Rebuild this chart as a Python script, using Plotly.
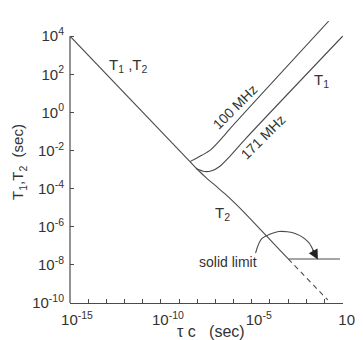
import plotly.graph_objects as go

# ---- data (log10 values) ----
# common T1 = T2 branch (short correlation time)
log_tau_shared = [-15.0, -8.40]
log_T_shared = [4.0, -2.58]

# T1 at 100 MHz
log_tau_100 = [-8.40, -7.75, -7.25, -6.60, -6.24, -0.77]
log_T1_100 = [-2.58, -2.25, -1.95, -1.30, -0.90, 4.79]

# T1 at 171 MHz
log_tau_171 = [-8.04, -7.60, -7.20, -6.75, -6.20, -5.31, 0.0]
log_T1_171 = [-2.96, -3.10, -3.06, -2.82, -2.30, -1.35, 4.0]

# T2 branch (long correlation time)
log_tau_T2 = [-8.40, -8.00, -7.50, -7.00, -6.50, -6.00, -5.50, -2.99]
log_T2 = [-2.58, -2.98, -3.43, -3.84, -4.25, -4.69, -5.16, -7.69]

# solid limit (horizontal) and dashed extrapolation
log_tau_solid = [-2.99, -0.15]
log_T_solid = [-7.69, -7.69]
log_tau_dash = [-2.99, -0.82]
log_T_dash = [-7.69, -9.84]

# curved arrow (annotation)
log_tau_arc = [-4.79, -4.45, -3.51, -2.58, -1.87, -1.50]
log_T_arc = [-7.38, -6.62, -6.25, -6.36, -6.82, -7.50]

x_tick_exp = list(range(-15, 1))
x_label_exp = [-15, -10, -5, 0]
y_tick_exp = [4, 2, 0, -2, -4, -6, -8, -10]

LINE = "#4a4a4a"
TXT = "#333333"
FONT = "Liberation Sans, Arial, sans-serif"


def p(v):
    return [10 ** e for e in v]


fig = go.Figure()


def add_line(xs, ys, dash="solid", shape="spline"):
    fig.add_trace(go.Scatter(
        x=p(xs), y=p(ys), mode="lines",
        line=dict(color=LINE, width=1.1, dash=dash, shape=shape, smoothing=0.8),
        showlegend=False, hoverinfo="skip"))


add_line(log_tau_shared, log_T_shared, shape="linear")
add_line(log_tau_100, log_T1_100)
add_line(log_tau_171, log_T1_171)
add_line(log_tau_T2, log_T2)
add_line(log_tau_solid, log_T_solid, shape="linear")
add_line(log_tau_dash, log_T_dash, dash="5px,4px", shape="linear")
add_line(log_tau_arc, log_T_arc)

# arrow head at the end of the arc
fig.add_annotation(x=-1.36, y=-7.72, xref="x", yref="y", text="",
                   showarrow=True, arrowhead=2, arrowsize=1.8, arrowwidth=1.1,
                   arrowcolor="#222222", ax=-6, ay=-11)

# y axis line (drawn only from 1e-10 to 1e4)
fig.add_shape(type="line", xref="paper", yref="paper", x0=0, x1=0,
              y0=0, y1=14 / 14.8, line=dict(color=LINE, width=1.2))


def lab(text, lx, ly, size=15, angle=0):
    fig.add_annotation(x=lx, y=ly, xref="x", yref="y", text=text,
                       showarrow=False, textangle=angle,
                       font=dict(family=FONT, size=size, color=TXT))


lab("T<sub>1</sub> ,T<sub>2</sub>", -11.80, 2.45)
lab("100 MHz", -5.93, 0.29, size=14, angle=-45)
lab("171 MHz", -4.38, -1.29, size=14, angle=-45)
lab("T<sub>1</sub>", -1.15, 1.70)
lab("T<sub>2</sub>", -6.60, -5.30)
lab("solid limit", -6.30, -7.85, size=14)

# x-axis title
fig.add_annotation(x=0.515, y=-0.10, xref="paper", yref="paper",
                   text="τ c   (sec)", showarrow=False, yanchor="middle",
                   font=dict(family=FONT, size=16, color=TXT))

fig.update_layout(
    width=363, height=340,
    margin=dict(l=62, r=10, t=13, b=45),
    paper_bgcolor="white", plot_bgcolor="white",
    font=dict(family=FONT, color=TXT),
    xaxis=dict(type="log", range=[-15, 0.02], showgrid=False, zeroline=False,
               showline=True, linecolor=LINE, linewidth=1.2,
               ticks="inside", ticklen=4, tickcolor=LINE,
               tickvals=[10 ** e for e in x_tick_exp],
               ticktext=[("10<sup>%d</sup>" % e) if e in x_label_exp else "" for e in x_tick_exp],
               tickfont=dict(size=15, family=FONT, color=TXT),
               ticklabelshift=7, ticklabelstandoff=3, ticklabeloverflow="allow"),
    yaxis=dict(type="log", range=[-10, 4.8], showgrid=False, zeroline=False,
               showline=False,
               ticks="inside", ticklen=4, tickcolor=LINE,
               tickvals=[10 ** e for e in y_tick_exp],
               ticktext=["10<sup>%d</sup>" % e for e in y_tick_exp],
               tickfont=dict(size=15, family=FONT, color=TXT),
               ticklabelstandoff=5,
               title=dict(text="T<sub>1</sub>,T<sub>2</sub>  (sec)",
                          font=dict(size=15, family=FONT, color=TXT), standoff=4)),
)

fig.write_html("out.html")
